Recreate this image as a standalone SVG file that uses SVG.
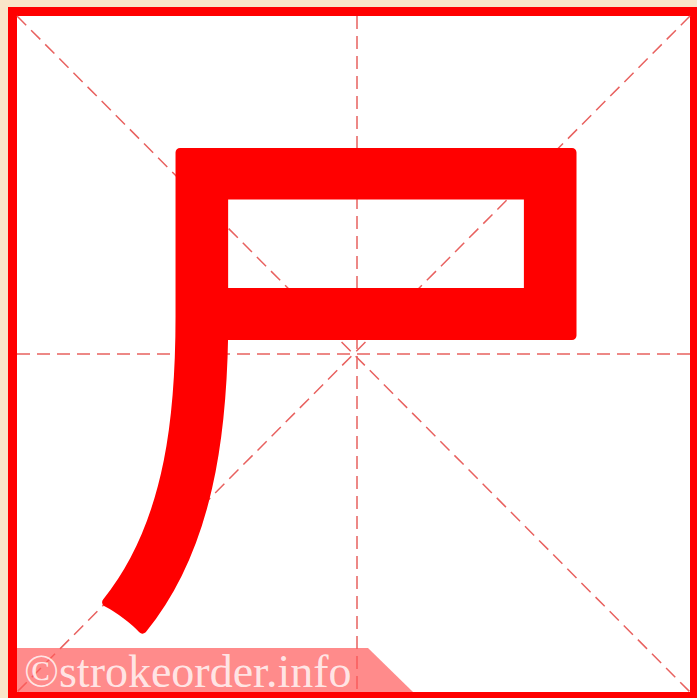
<svg xmlns="http://www.w3.org/2000/svg" width="697" height="698" viewBox="0 0 697 698">
<style>
.guide{stroke:#e8615f;stroke-width:1.5;stroke-dasharray:13 7;fill:none}
.char{font-family:"Noto Sans CJK SC","Noto Sans CJK JP",sans-serif;font-weight:400;fill:#ff0000;stroke:#ff0000;stroke-width:9;stroke-linejoin:round}
.wm{font-family:"Liberation Serif","DejaVu Serif",serif;fill:#fff1f1;fill-opacity:0.9}
</style>
<rect x="0" y="0" width="697" height="698" fill="#f9e5c9"/>
<rect x="8" y="7" width="689" height="691" fill="#ff0000"/>
<rect x="17" y="16" width="673" height="676" fill="#ffffff"/>
<g id="guides">
<line class="guide" x1="17" y1="16" x2="690" y2="692"/>
<line class="guide" x1="690" y1="16" x2="17" y2="692"/>
<line class="guide" x1="357" y1="16" x2="357" y2="692"/>
<line class="guide" x1="17" y1="354" x2="690" y2="354"/>
</g>
<g id="character">
<text class="char" x="362" y="591" font-size="560" text-anchor="middle">尸</text>
</g>
<g id="watermark">
<polygon points="17,648 368,648 413,692 17,692" fill="#ff5a5a" fill-opacity="0.7"/>
<text class="wm" x="24" y="687" font-size="46">©strokeorder.info</text>
</g>
</svg>
